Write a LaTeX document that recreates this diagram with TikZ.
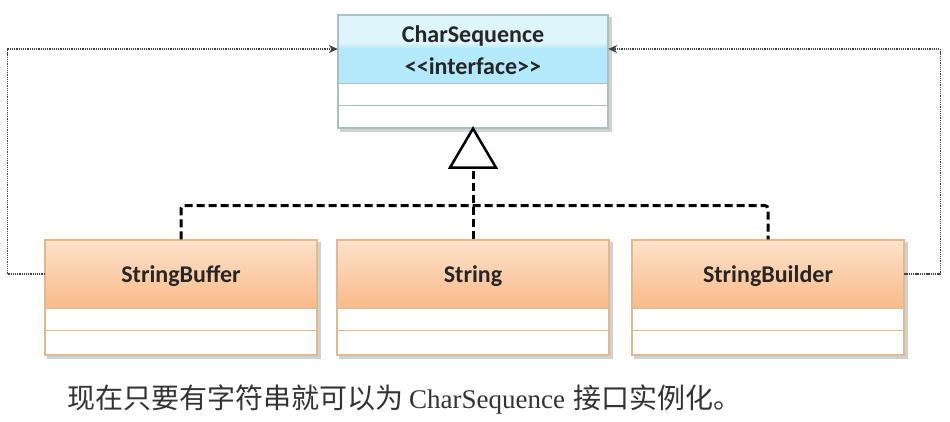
\documentclass[tikz,border=0pt]{standalone}
\usepackage{fontspec}
\setmainfont{Liberation Serif}
\newfontfamily\calib{Carlito}
\newfontfamily\cjk{Noto Sans CJK SC}
\usetikzlibrary{calc,arrows.meta}
\pgfdeclarelayer{back}\pgfdeclarelayer{bg}\pgfsetlayers{back,bg,main}
\definecolor{cyanA}{HTML}{DDF4FA}
\definecolor{cyanB}{HTML}{B3E9FA}
\definecolor{orA}{HTML}{FDE2CB}
\definecolor{orC}{HTML}{F9BA89}
\definecolor{cyanEdge}{HTML}{A9BFC6}
\definecolor{orEdge}{HTML}{E2B88F}
\tikzset{
  frame/.style={draw=#1, line width=1.2pt, fill=none, inner sep=0pt},
  label/.style={font=\calib\bfseries\fontsize{24}{27}\selectfont, text=black!85, inner sep=0pt},
  impl/.style={draw=black, line width=3pt, dash pattern=on 8pt off 4pt, rounded corners=3pt},
  dep/.style={draw=black!75, line width=1.3pt, dash pattern=on 1.3pt off 0.9pt, -{Stealth[length=9pt,width=8pt]}},
  tri/.style={draw=black, line width=2.5pt, fill=white, line join=miter},
  shadowc/.style={fill=black!18}
}
\begin{document}
\begin{tikzpicture}[x=1pt,y=-1pt]
\begin{pgfonlayer}{back}
\useasboundingbox[fill=white] (0,0) rectangle (950,422);
\end{pgfonlayer}

% ---------- CharSequence ----------
\node[frame=cyanEdge, minimum width=270pt, minimum height=113pt] (cs) at (473,71.5) {};
\node[inner sep=0pt, minimum width=270pt, minimum height=68pt] (csH) at (473,49) {};
\node[label] (csT) at (473,36) {CharSequence};
\node[label] (csI) at (473,66) {<{}<interface>{}>};
\begin{pgfonlayer}{bg}
  \fill[shadowc] ($(cs.north west)+(3,3)$) rectangle ($(cs.south east)+(3,3)$);
  \fill[white] (cs.north west) rectangle (cs.south east);
  \fill[cyanA] (cs.north west) rectangle ([yshift=-28pt]csH.north east);
  \shade[top color=cyanA, bottom color=cyanB] ([yshift=-28pt]csH.north west) rectangle ([yshift=-34pt]csH.north east);
  \fill[cyanB] ([yshift=-34pt]csH.north west) rectangle (csH.south east);
\end{pgfonlayer}
\draw[cyanEdge, line width=1.2pt] (csH.south west) -- (csH.south east);
\draw[cyanEdge, line width=1.2pt] ([yshift=-22pt]csH.south west) -- ([yshift=-22pt]csH.south east);

% ---------- lower classes ----------
\foreach \nm/\cx/\txt in {sbuf/181/StringBuffer, str/473/String, sbld/768/StringBuilder}{
  \node[frame=orEdge, minimum width=272pt, minimum height=115pt] (\nm) at (\cx,297.5) {};
  \node[inner sep=0pt, minimum width=272pt, minimum height=68pt] (\nm H) at (\cx,274) {};
  \node[label] (\nm T) at (\cx,276) {\txt};
  \begin{pgfonlayer}{bg}
    \fill[shadowc] ($(\nm.north west)+(3,3)$) rectangle ($(\nm.south east)+(3,3)$);
    \fill[white] (\nm.north west) rectangle (\nm.south east);
    \shade[top color=orA, middle color=orA!50!orC, bottom color=orC] (\nm H.north west) rectangle (\nm H.south east);
  \end{pgfonlayer}
  \draw[orEdge, line width=1.2pt] (\nm H.south west) -- (\nm H.south east);
  \draw[orEdge, line width=1.2pt] ([yshift=-22pt]\nm H.south west) -- ([yshift=-22pt]\nm H.south east);
}

% ---------- realization triangle and dashed lines ----------
\coordinate (apex) at (cs.south);
\coordinate (baseL) at ($(apex)+(-23,39)$);
\coordinate (baseR) at ($(apex)+(23,39)$);
\coordinate (baseM) at ($(apex)+(0,39)$);
\coordinate (junc) at ($(apex)+(0,77)$);
\draw[impl] (str.north) -- (baseM);
\draw[impl] (sbuf.north) |- (junc) -| (sbld.north);
\draw[tri] (apex) -- (baseL) -- (baseR) -- cycle;

% ---------- dotted dependency arrows ----------
\draw[dep] (sbufH.west) -- ++(-37,0) |- (csH.west);
\draw[dep] (sbldH.east) -- ++(36,0) |- (csH.east);

% ---------- caption ----------
\node[anchor=west, inner sep=0pt, text=black!80] (cap) at (67,400)
  {\cjk\fontsize{28}{32}\selectfont 现在只要有字符串就可以为\hspace{6pt}{\rmfamily\fontsize{27}{32}\selectfont CharSequence}\hspace{8pt}接口实例化。};
\end{tikzpicture}
\end{document}
